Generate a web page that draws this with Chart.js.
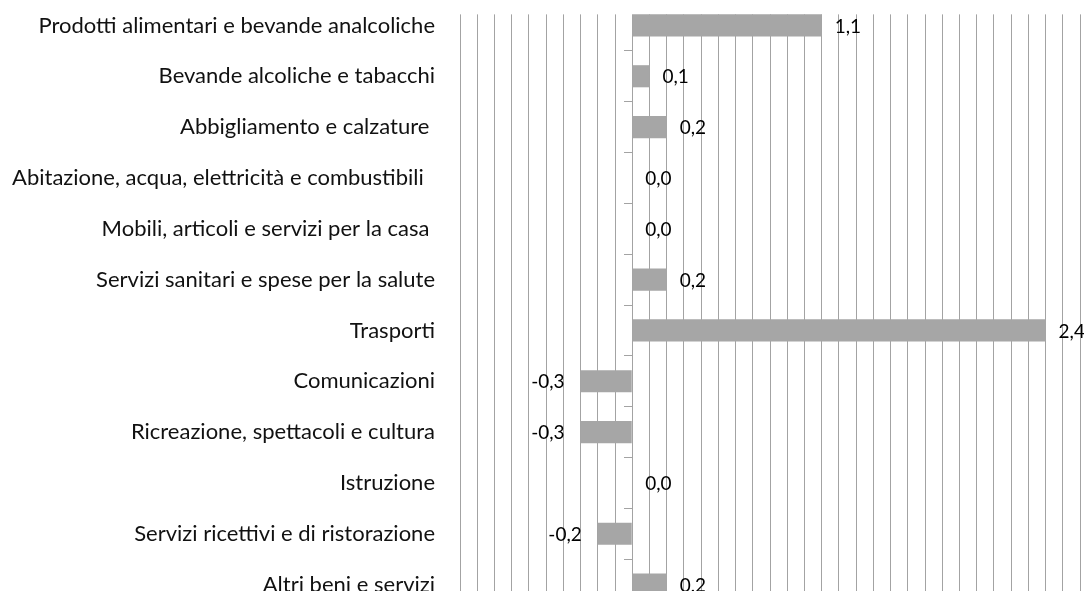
<!DOCTYPE html>
<html>
<head>
<meta charset="utf-8">
<script src="https://cdn.jsdelivr.net/npm/chart.js@4/dist/chart.umd.min.js"></script>
<style>
  html, body { margin: 0; padding: 0; background: #fff; overflow: hidden; }
  #wrap { width: 1084px; height: 612px; }
</style>
</head>
<body>
<div id="wrap"><canvas id="barChart" width="1084" height="612"></canvas></div>
<script>
const categories = [
  "Prodotti alimentari e bevande analcoliche",
  "Bevande alcoliche e tabacchi",
  "Abbigliamento e calzature ",
  "Abitazione, acqua, elettricità e combustibili  ",
  "Mobili, articoli e servizi per la casa ",
  "Servizi sanitari e spese per la salute",
  "Trasporti",
  "Comunicazioni",
  "Ricreazione, spettacoli e cultura",
  "Istruzione",
  "Servizi ricettivi e di ristorazione",
  "Altri beni e servizi"
];
const values = [1.1, 0.1, 0.2, 0.0, 0.0, 0.2, 2.4, -0.3, -0.3, 0.0, -0.2, 0.2];
const axisMin = -1.0;
const axisMax = 2.6;
const gridStep = 0.1;

const FONT = "Lato, 'Open Sans', sans-serif";
const GRID = "#a3a3a3";

// writes the value next to each bar, italian decimal comma
const valueLabels = {
  id: "valueLabels",
  afterDatasetsDraw(chart) {
    const ctx = chart.ctx;
    const meta = chart.getDatasetMeta(0);
    ctx.save();
    ctx.font = "19px " + FONT;
    ctx.fillStyle = "#000";
    ctx.textBaseline = "middle";
    meta.data.forEach((bar, i) => {
      const v = values[i];
      const txt = v.toFixed(1).replace(".", ",");
      if (v < 0) {
        ctx.textAlign = "right";
        ctx.fillText(txt, bar.x - 16, bar.y + 1);
      } else {
        ctx.textAlign = "left";
        ctx.fillText(txt, bar.x + 13, bar.y + 1);
      }
    });
    ctx.restore();
  }
};

// gridlines only start at the top of the first bar
const topMask = {
  id: "topMask",
  beforeDatasetsDraw(chart) {
    const bar = chart.getDatasetMeta(0).data[0];
    const a = chart.chartArea;
    const top = bar.y - bar.height / 2;
    const ctx = chart.ctx;
    ctx.save();
    ctx.fillStyle = "#fff";
    ctx.fillRect(a.left - 2, 0, a.right - a.left + 6, top);
    ctx.restore();
  }
};

new Chart(document.getElementById("barChart").getContext("2d"), {
  type: "bar",
  data: {
    labels: categories,
    datasets: [{
      data: values,
      backgroundColor: "#a6a6a6",
      borderWidth: 0,
      categoryPercentage: 1,
      barPercentage: 0.435,
      yAxisID: "y"
    }]
  },
  options: {
    indexAxis: "y",
    responsive: false,
    animation: false,
    layout: { padding: { left: 0, right: 4, top: 0, bottom: 2 } },
    plugins: {
      legend: { display: false },
      tooltip: { enabled: false }
    },
    scales: {
      x: {
        type: "linear",
        min: axisMin,
        max: axisMax,
        ticks: { display: false, stepSize: gridStep },
        grid: { color: GRID, lineWidth: 1, drawTicks: false },
        border: { display: false }
      },
      y: {
        type: "category",
        position: "left",
        grid: { display: false },
        border: { display: false },
        ticks: {
          color: "#111",
          padding: 17,
          font: { family: FONT, size: 22 }
        },
        afterFit(scale) {
          scale.width = 460;
          scale.paddingTop = 0;
          scale.paddingBottom = 0;
        }
      },
      yTicks: {
        type: "category",
        position: { x: 0 },
        offset: true,
        grid: {
          offset: true,
          drawOnChartArea: false,
          tickLength: 8,
          color: GRID
        },
        border: { display: true, color: GRID },
        ticks: { display: false },
        afterFit(scale) {
          scale.paddingTop = 0;
          scale.paddingBottom = 0;
        }
      }
    }
  },
  plugins: [topMask, valueLabels]
});
</script>
</body>
</html>
